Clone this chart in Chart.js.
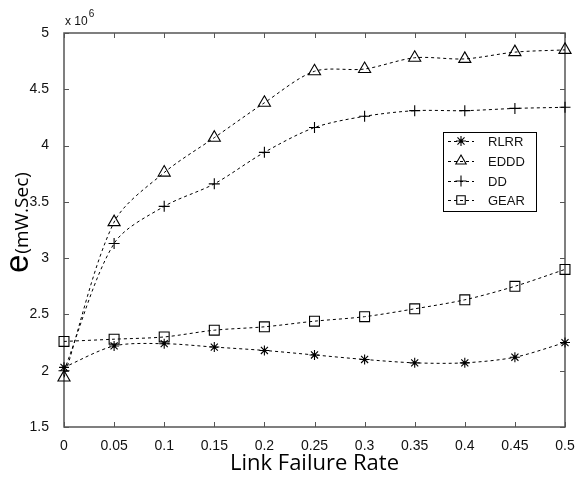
<!DOCTYPE html>
<html>
<head>
<meta charset="utf-8">
<script src="https://cdn.jsdelivr.net/npm/chart.js@4/dist/chart.umd.min.js"></script>
<style>
  html, body { margin: 0; padding: 0; background: #fff; }
  #wrap { width: 582px; height: 477px; position: relative; }
</style>
</head>
<body>
<div id="wrap"><canvas id="c" width="582" height="477"></canvas></div>
<script>
// ---- data ----
const xValues = [0, 0.05, 0.1, 0.15, 0.2, 0.25, 0.3, 0.35, 0.4, 0.45, 0.5];
const xTickLabels = ['0', '0.05', '0.1', '0.15', '0.2', '0.25', '0.3', '0.35', '0.4', '0.45', '0.5'];
const yTickValues = [1.5, 2, 2.5, 3, 3.5, 4, 4.5, 5];
const yTickLabels = ['1.5', '2', '2.5', '3', '3.5', '4', '4.5', '5'];
const seriesNames = ['RLRR', 'EDDD', 'DD', 'GEAR'];
const rlrr = [2.03, 2.22, 2.24, 2.21, 2.18, 2.14, 2.10, 2.07, 2.07, 2.12, 2.25];
const eddd = [1.94, 3.32, 3.76, 4.07, 4.38, 4.66, 4.68, 4.78, 4.77, 4.83, 4.85];
const dd   = [2.00, 3.13, 3.46, 3.66, 3.94, 4.16, 4.26, 4.31, 4.31, 4.33, 4.34];
const gear = [2.26, 2.28, 2.30, 2.36, 2.39, 2.44, 2.48, 2.55, 2.63, 2.75, 2.90];
const xTitle = 'Link Failure Rate';
const yTitleMain = 'e';
const yTitleUnit = '(mW.Sec)';
const exponentBase = 'x 10';
const exponentPower = '6';

const styles = [
  { pointStyle: 'star', radius: 5 },
  { pointStyle: 'triangle', radius: 7 },
  { pointStyle: 'cross', radius: 5.5 },
  { pointStyle: 'rect', radius: 7 }
];
const allSeries = [rlrr, eddd, dd, gear];

const datasets = allSeries.map((vals, i) => ({
  label: seriesNames[i],
  data: xValues.map((x, j) => ({ x: x, y: vals[j] })),
  borderColor: '#000',
  backgroundColor: 'rgba(0,0,0,0)',
  borderWidth: 1,
  borderDash: [3, 3],
  tension: 0.3,
  pointStyle: styles[i].pointStyle,
  pointRadius: styles[i].radius,
  pointBorderColor: '#000',
  pointBackgroundColor: i === 0 ? '#000' : 'rgba(0,0,0,0)',
  pointBorderWidth: 1.1,
  clip: false
}));

function drawMarker(ctx, style, r, x, y) {
  ctx.save();
  ctx.setLineDash([]);
  ctx.strokeStyle = '#000';
  ctx.lineWidth = 1.1;
  ctx.beginPath();
  if (style === 'rect') {
    const s = Math.SQRT1_2 * r;
    ctx.rect(x - s, y - s, 2 * s, 2 * s);
  } else if (style === 'triangle') {
    const rad = -Math.PI / 2;
    ctx.moveTo(x + Math.cos(rad) * r, y + Math.sin(rad) * r);
    ctx.lineTo(x + Math.cos(rad + 2 * Math.PI / 3) * r, y + Math.sin(rad + 2 * Math.PI / 3) * r);
    ctx.lineTo(x + Math.cos(rad + 4 * Math.PI / 3) * r, y + Math.sin(rad + 4 * Math.PI / 3) * r);
    ctx.closePath();
  } else if (style === 'cross') {
    ctx.moveTo(x, y - r); ctx.lineTo(x, y + r);
    ctx.moveTo(x - r, y); ctx.lineTo(x + r, y);
  } else if (style === 'star') {
    for (let k = 0; k < 4; k++) {
      const a = k * Math.PI / 4;
      ctx.moveTo(x - Math.cos(a) * r, y - Math.sin(a) * r);
      ctx.lineTo(x + Math.cos(a) * r, y + Math.sin(a) * r);
    }
  }
  ctx.stroke();
  ctx.restore();
}

const framePlugin = {
  id: 'frame',
  beforeDatasetsDraw(chart) {
    const { ctx, chartArea: a, scales } = chart;
    ctx.save();
    ctx.strokeStyle = '#555';
    ctx.lineWidth = 1.5;
    ctx.strokeRect(a.left, a.top, a.right - a.left, a.bottom - a.top);
    ctx.lineWidth = 1;
    ctx.beginPath();
    const tl = 5;
    xValues.forEach(v => {
      const px = Math.round(scales.x.getPixelForValue(v)) + 0.5;
      ctx.moveTo(px, a.bottom); ctx.lineTo(px, a.bottom - tl);
      ctx.moveTo(px, a.top); ctx.lineTo(px, a.top + tl);
    });
    yTickValues.forEach(v => {
      const py = Math.round(scales.y.getPixelForValue(v)) + 0.5;
      ctx.moveTo(a.left, py); ctx.lineTo(a.left + tl, py);
      ctx.moveTo(a.right, py); ctx.lineTo(a.right - tl, py);
    });
    ctx.stroke();
    ctx.restore();
  },
  afterDraw(chart) {
    const { ctx, chartArea: a } = chart;
    ctx.save();
    // y axis title, rotated, with two sizes
    ctx.translate(28, 273);
    ctx.rotate(-Math.PI / 2);
    ctx.fillStyle = '#000';
    ctx.textBaseline = 'alphabetic';
    ctx.textAlign = 'left';
    ctx.font = '33px "Liberation Sans", Arial, sans-serif';
    ctx.fillText(yTitleMain, 0, 0);
    const w = ctx.measureText(yTitleMain).width;
    ctx.font = '19px "Open Sans", sans-serif';
    ctx.fillText(yTitleUnit, w + 1, 0);
    ctx.restore();

    // exponent label
    ctx.save();
    ctx.fillStyle = '#111';
    ctx.textBaseline = 'alphabetic';
    ctx.font = '12px "Liberation Sans", Arial, sans-serif';
    ctx.fillText(exponentBase, a.left + 1, 25);
    const bw = ctx.measureText(exponentBase).width;
    ctx.font = '10px "Liberation Sans", Arial, sans-serif';
    ctx.fillText(exponentPower, a.left + 2 + bw, 17);
    ctx.restore();

    // legend box
    ctx.save();
    const lx = 443, ly = 132, lw = 93, lh = 79;
    ctx.fillStyle = '#fff';
    ctx.fillRect(lx, ly, lw, lh);
    ctx.strokeStyle = '#000';
    ctx.lineWidth = 1;
    ctx.strokeRect(lx + 0.5, ly + 0.5, lw, lh);
    const rows = [141, 161, 181, 200];
    chart.data.datasets.forEach((ds, i) => {
      const y = rows[i];
      ctx.save();
      ctx.strokeStyle = '#000';
      ctx.lineWidth = 1;
      ctx.setLineDash([3, 3]);
      ctx.beginPath();
      ctx.moveTo(448, y + 0.5); ctx.lineTo(474, y + 0.5);
      ctx.stroke();
      ctx.restore();
      drawMarker(ctx, ds.pointStyle, Math.min(ds.pointRadius, 6), 461, y);
      if (i === 0) {
        ctx.beginPath(); ctx.fillStyle = '#000';
        ctx.arc(461, y, 1.6, 0, Math.PI * 2); ctx.fill();
      }
      ctx.fillStyle = '#111';
      ctx.font = '13px "Liberation Sans", Arial, sans-serif';
      ctx.textBaseline = 'middle';
      ctx.textAlign = 'left';
      ctx.fillText(ds.label, 488, y + 1);
    });
    ctx.restore();
  },
  afterDatasetsDraw(chart) {
    const { ctx } = chart;
    const meta = chart.getDatasetMeta(0);
    ctx.save();
    ctx.fillStyle = '#000';
    meta.data.forEach(p => {
      ctx.beginPath(); ctx.arc(p.x, p.y, 1.6, 0, Math.PI * 2); ctx.fill();
    });
    ctx.restore();
  }
};

new Chart(document.getElementById('c'), {
  type: 'line',
  data: { datasets: datasets },
  plugins: [framePlugin],
  options: {
    responsive: false,
    animation: false,
    devicePixelRatio: 1,
    layout: { padding: { left: 0, top: 33, right: 17, bottom: 0 } },
    plugins: { legend: { display: false }, tooltip: { enabled: false }, title: { display: false } },
    scales: {
      x: {
        type: 'linear', min: 0, max: 0.5,
        afterBuildTicks: s => { s.ticks = xValues.map(v => ({ value: v })); },
        afterFit: s => { s.height = 50; },
        grid: { display: false },
        border: { display: false },
        ticks: {
          autoSkip: false, maxRotation: 0, padding: 3, color: '#111',
          font: { family: '"Liberation Sans", Arial, sans-serif', size: 14 },
          callback: (v, i) => xTickLabels[i]
        },
        title: {
          display: true, text: xTitle, color: '#000',
          font: { family: '"Open Sans", sans-serif', size: 22, lineHeight: 1.1 },
          padding: { top: 0, bottom: 1 }
        }
      },
      y: {
        type: 'linear', min: 1.5, max: 5,
        afterBuildTicks: s => { s.ticks = yTickValues.map(v => ({ value: v })); },
        afterFit: s => { s.width = 64; },
        grid: { display: false },
        border: { display: false },
        ticks: {
          padding: 7, color: '#111',
          font: { family: '"Liberation Sans", Arial, sans-serif', size: 14 },
          callback: (v, i) => yTickLabels[i]
        }
      }
    }
  }
});
</script>
</body>
</html>
